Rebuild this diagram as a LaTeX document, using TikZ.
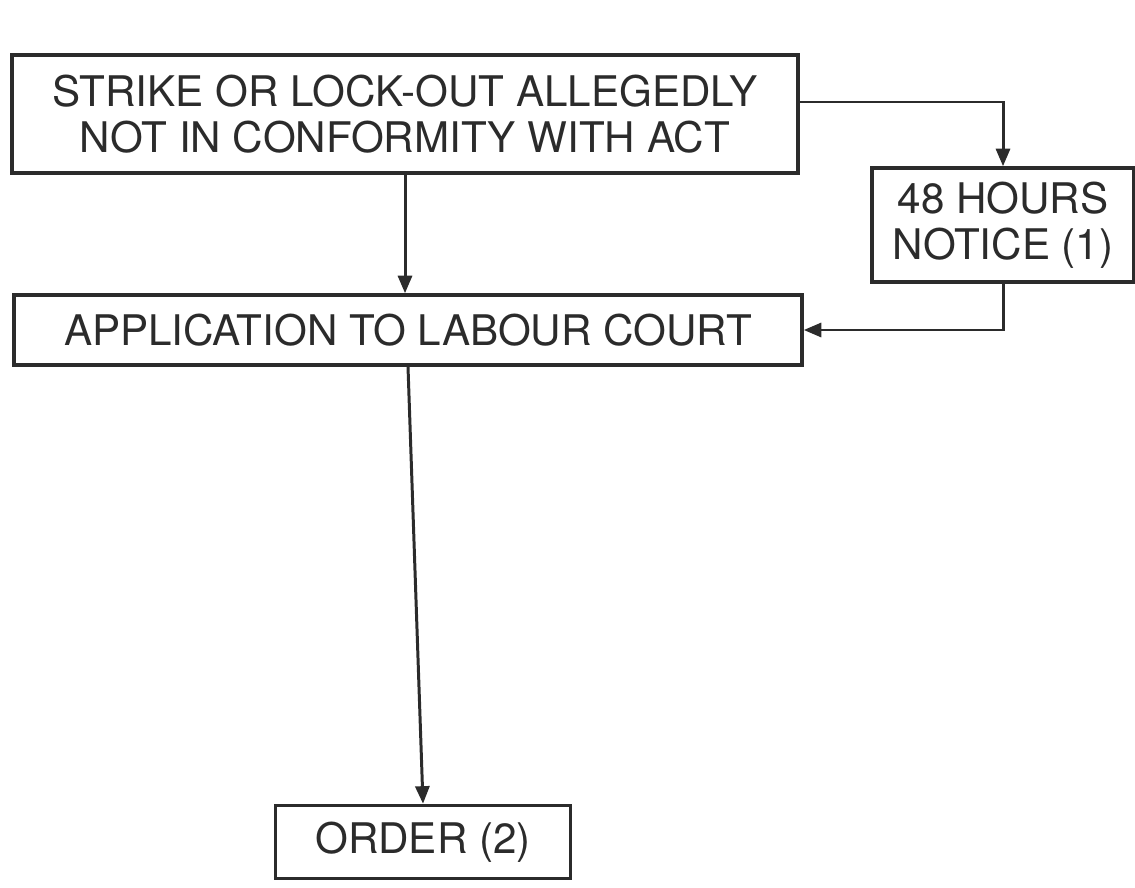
\documentclass[tikz,border=0pt]{standalone}
\usepackage{fontspec}
\setmainfont{TeX Gyre Heros}
\usepackage{tikz}
\usetikzlibrary{arrows.meta, positioning, calc}
\definecolor{C_INK}{HTML}{2B2B2B}
\tikzset{
  %% -- flow chart box --
  FC/box/.style={
    draw=C_INK, line width=2pt, fill=white,
    inner sep=0pt, align=center, text=C_INK,
    font=\fontsize{24}{26}\selectfont
  },
  %% -- flow chart connector --
  FC/arr/.style={-{Triangle[length=10pt, width=8pt]}, line width=1.7pt, color=C_INK},
}
\begin{document}
\begin{tikzpicture}[x=0.02cm, y=-0.02cm]
\useasboundingbox (0,0) rectangle (1135,888);
%% Nodes
\node[FC/box, minimum width=786*0.02cm, minimum height=118*0.02cm]
  (strike) at (405,114) {STRIKE OR LOCK-OUT ALLEGEDLY\\NOT IN CONFORMITY WITH ACT};
\node[FC/box, minimum width=262*0.02cm, minimum height=114*0.02cm]
  (notice) at (1003,225) {48 HOURS\\NOTICE (1)};
\node[FC/box, minimum width=788*0.02cm, minimum height=70*0.02cm]
  (court) at (408,330) {APPLICATION TO LABOUR COURT};
\node[FC/box, minimum width=295*0.02cm, minimum height=73*0.02cm]
  (order) at (423,842) {ORDER (2)};

%% Strike -> Court
\draw[FC/arr] (strike.south) -- (strike.south |- court.north);
%% Strike -> Notice
\draw[FC/arr] ([yshift=12*0.02cm]strike.east) -| (notice.north);
%% Notice -> Court
\draw[FC/arr] (notice.south) |- (court.east);
%% Court -> Order
\draw[FC/arr] (court.south) -- (order.north);
\end{tikzpicture}
\end{document}
